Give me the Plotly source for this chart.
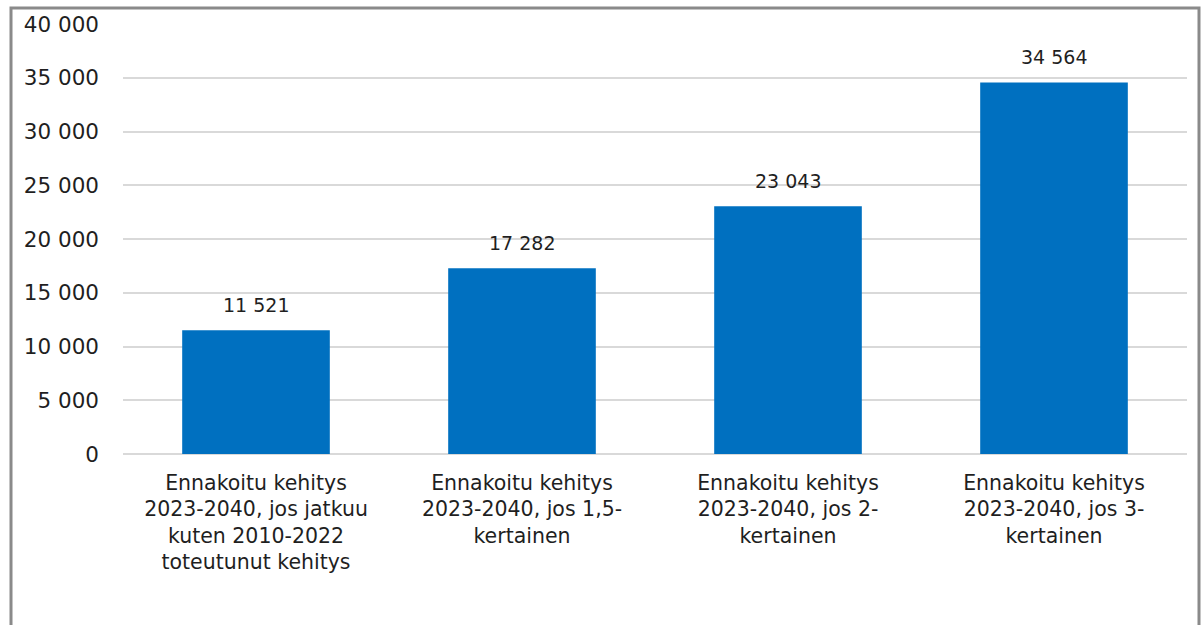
import plotly.graph_objects as go

# data
categories = [
    "Ennakoitu kehitys<br>2023-2040, jos jatkuu<br>kuten 2010-2022<br>toteutunut kehitys",
    "Ennakoitu kehitys<br>2023-2040, jos 1,5-<br>kertainen",
    "Ennakoitu kehitys<br>2023-2040, jos 2-<br>kertainen",
    "Ennakoitu kehitys<br>2023-2040, jos 3-<br>kertainen",
]
values = [11521, 17282, 23043, 34564]
y_ticks = [0, 5000, 10000, 15000, 20000, 25000, 30000, 35000, 40000]

FONT = "DejaVu Sans"
TXT = "#1f1f1f"

fig = go.Figure(go.Bar(x=categories, y=values, marker_color="#0070C0",
                       marker_line_width=0, hoverinfo="skip"))

# value labels above bars
for c, v in zip(categories, values):
    fig.add_annotation(x=c, y=v, text=f"{v:,}".replace(",", " "), showarrow=False,
                       yanchor="bottom", yshift=12,
                       font=dict(family=FONT, size=19, color=TXT))

# outer frame
fig.add_shape(type="rect", xref="paper", yref="paper",
              x0=(11 - 123) / 1064, x1=(1199 - 123) / 1064,
              y0=-0.6, y1=1 + 16 / 433,
              line=dict(color="#8a8a8a", width=3), layer="below")

fig.update_layout(
    width=1204, height=625,
    margin=dict(l=123, r=17, t=21, b=171),
    paper_bgcolor="white", plot_bgcolor="white",
    separators=", ",
    bargap=0.445,
    showlegend=False,
    font=dict(family=FONT, color=TXT),
    xaxis=dict(showgrid=False, showline=False, ticks="",
               tickfont=dict(size=20.5, color=TXT), ticklabelstandoff=14),
    yaxis=dict(range=[0, 40000], tickvals=y_ticks, tickformat=",",
               showgrid=True, gridcolor="#d9d9d9", gridwidth=1.5,
               zeroline=True, zerolinecolor="#d9d9d9", zerolinewidth=1.5,
               showline=False, ticks="", ticklabelstandoff=23,
               tickfont=dict(size=21.5, color=TXT)),
)

fig.write_html("out.html", config={"displayModeBar": False},
               post_script="document.body.style.margin='0px';")
